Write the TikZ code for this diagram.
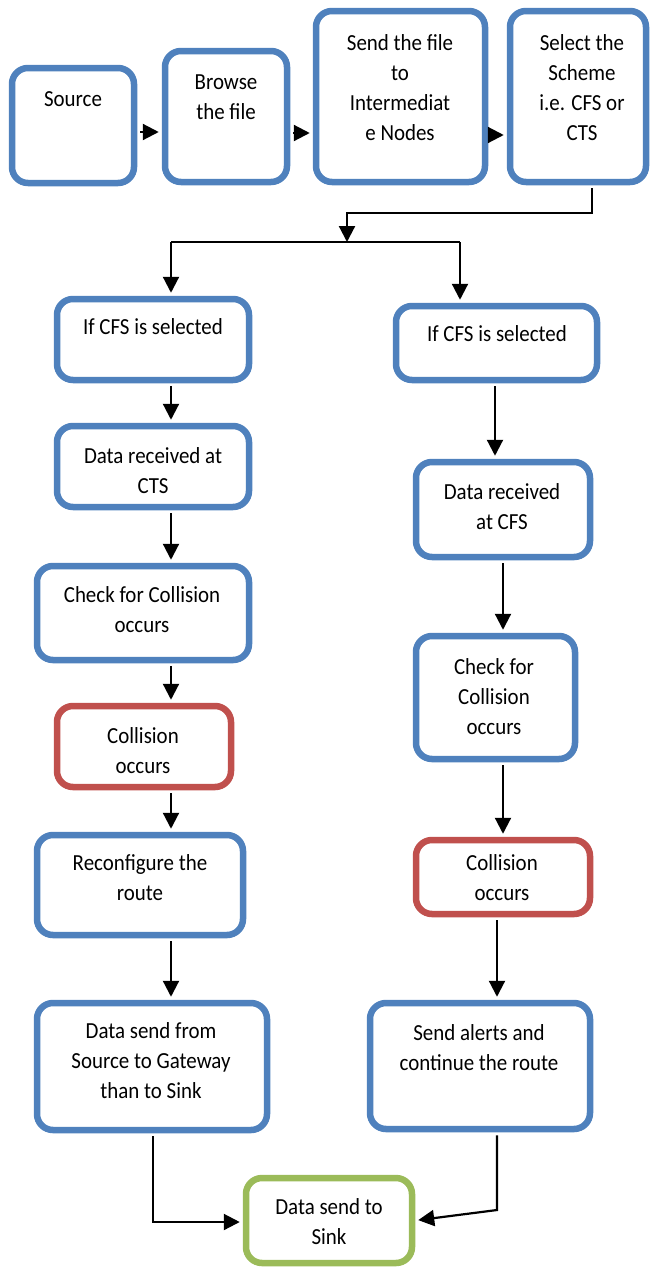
\documentclass[tikz,border=0pt]{standalone}
\usepackage{fontspec}
\setmainfont{Carlito}
\newfontfamily\boxfont[FakeStretch=0.91]{Carlito}
\usetikzlibrary{arrows.meta,calc}
\definecolor{bblue}{HTML}{4F81BD}
\definecolor{bred}{HTML}{C0504D}
\definecolor{bgreen}{HTML}{9BBB59}
\begin{document}
\begin{tikzpicture}[x=1pt,y=-1pt,
  box/.style={draw=bblue, fill=white, line width=6.5pt, rounded corners=16pt, inner sep=0pt},
  rbox/.style={box, draw=bred},
  gbox/.style={box, draw=bgreen},
  txt/.style={font=\boxfont\fontsize{23pt}{30pt}\selectfont, align=center, inner sep=0pt},
  ln/.style={line width=2.2pt, draw=black},
  arr/.style={ln, -{Triangle[length=16pt,width=16pt]}, shorten >=3pt, shorten <=3pt},
  arrc/.style={ln, -{Triangle[length=16pt,width=16pt]}, shorten <=3pt}]
\useasboundingbox (0,0) rectangle (651,1267);
% boxes
\node[box, minimum width=122pt, minimum height=115pt] (src) at (73,125.5) {};
\node[box, minimum width=122pt, minimum height=131pt] (brw) at (226,116.5) {};
\node[box, minimum width=169pt, minimum height=171pt] (snd) at (400.5,96.5) {};
\node[box, minimum width=136pt, minimum height=171pt] (sel) at (578,96.5) {};
\node[box, minimum width=192pt, minimum height=81pt] (lcfs) at (153,339.5) {};
\node[box, minimum width=201pt, minimum height=74pt] (rcfs) at (496.5,343) {};
\node[box, minimum width=192pt, minimum height=81pt] (lrec) at (153,466.5) {};
\node[box, minimum width=174pt, minimum height=95pt] (rrec) at (503,509.5) {};
\node[box, minimum width=212pt, minimum height=94pt] (lchk) at (143,613) {};
\node[box, minimum width=159pt, minimum height=123pt] (rchk) at (495.5,697.5) {};
\node[rbox, minimum width=174pt, minimum height=81pt] (lcol) at (144,746.5) {};
\node[rbox, minimum width=174pt, minimum height=74pt] (rcol) at (503,877) {};
\node[box, minimum width=206pt, minimum height=100pt] (lrt) at (140,885) {};
\node[box, minimum width=230pt, minimum height=127pt] (ldat) at (152,1066.5) {};
\node[box, minimum width=220pt, minimum height=126pt] (ralt) at (480,1066) {};
\node[gbox, minimum width=166pt, minimum height=85pt] (sink) at (329,1220.5) {};
% texts
\node[txt] (tsrc) at (73,99) {Source};
\node[txt] (tbrw) at (226,97) {Browse\\the file};
\node[txt] (tsnd) at (400,88) {Send the file\\to\\Intermediat\\e Nodes};
\node[txt] (tsel) at (582,88) {Select the\\Scheme\\i.e. CFS or\\CTS};
\node[txt] (tlcfs) at (153,327) {If CFS is selected};
\node[txt] (trcfs) at (497,334) {If CFS is selected};
\node[txt] (tlrec) at (153,471) {Data received at\\CTS};
\node[txt] (trrec) at (502,506.5) {Data received\\at CFS};
\node[txt] (tlchk) at (142,609.5) {Check for Collision\\occurs};
\node[txt] (trchk) at (494,697) {Check for\\Collision\\occurs};
\node[txt] (tlcol) at (143,751) {Collision\\occurs};
\node[txt] (trcol) at (502,878) {Collision\\occurs};
\node[txt] (tlrt) at (140,878) {Reconfigure the\\route};
\node[txt] (tldat) at (151,1061) {Data send from\\Source to Gateway\\than to Sink};
\node[txt] (tralt) at (479,1048) {Send alerts and\\continue the route};
\node[txt] (tsink) at (329,1222) {Data send to\\Sink};
% helper coordinates
\coordinate (r1) at (0,132);
\coordinate (r2) at (0,133);
\coordinate (r3) at (0,135);
\coordinate (tx) at (592,213);
\coordinate (split) at (347,242);
\coordinate (lx) at (171,0);
\coordinate (rx0) at (460,0);
\coordinate (rx1) at (495,0);
\coordinate (rx2) at (503,0);
\coordinate (rx3) at (497,0);
\coordinate (lbend) at (153,1222);
\coordinate (rbend) at (497,1210);
% connectors
\draw[arr] (src.east |- r1) -- (brw.west |- r1);
\draw[arr] (brw.east |- r2) -- (snd.west |- r2);
\draw[arr] (snd.east |- r3) -- (sel.west |- r3);
\draw[arrc] (sel.south -| tx) -- (tx) -| (split);
\draw[ln] (lx |- split) -- (rx0 |- split);
\draw[arr, shorten <=0pt] (lx |- split) -- (lx |- lcfs.north);
\draw[arr, shorten <=0pt] (rx0 |- split) -- (rx0 |- rcfs.north);
\draw[arr] (lcfs.south -| lx) -- (lrec.north -| lx);
\draw[arr] (lrec.south -| lx) -- (lchk.north -| lx);
\draw[arr] (lchk.south -| lx) -- (lcol.north -| lx);
\draw[arr] (lcol.south -| lx) -- (lrt.north -| lx);
\draw[arr] (lrt.south -| lx) -- (ldat.north -| lx);
\draw[arr] (rcfs.south -| rx1) -- (rrec.north -| rx1);
\draw[arr] (rrec.south -| rx2) -- (rchk.north -| rx2);
\draw[arr] (rchk.south -| rx2) -- (rcol.north -| rx2);
\draw[arr] (rcol.south -| rx3) -- (ralt.north -| rx3);
\draw[arr] (ldat.south -| lbend) -- (lbend) -- (sink.west |- lbend);
\draw[arr] (ralt.south -| rbend) -- (rbend) -- (sink.east);
\end{tikzpicture}
\end{document}
